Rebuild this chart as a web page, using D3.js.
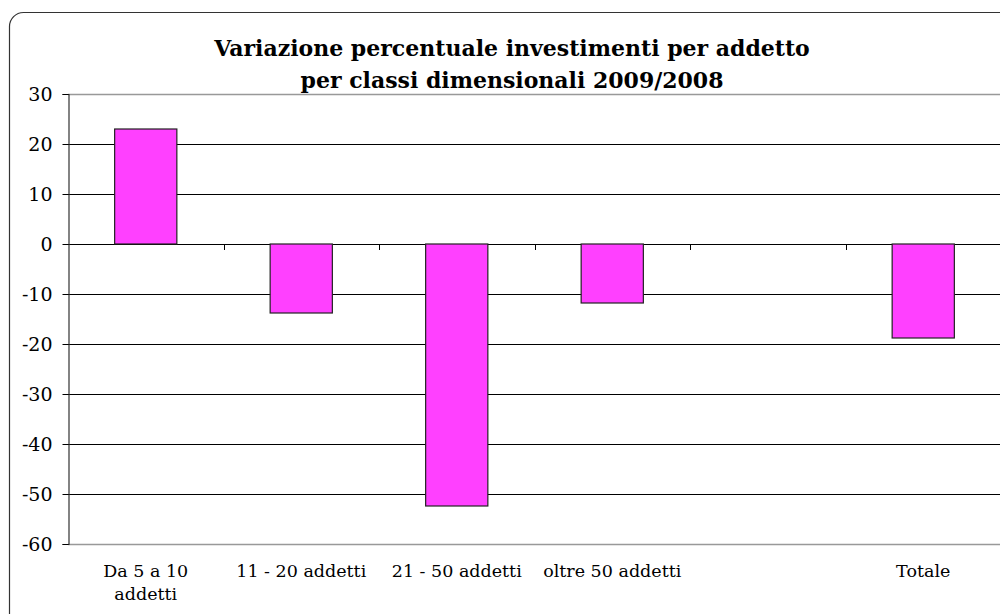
<!DOCTYPE html>
<html>
<head>
<meta charset="utf-8">
<script src="https://cdn.jsdelivr.net/npm/d3@7"></script>
<style>
  body { margin: 0; background: #fff; }
  svg text { font-family: "DejaVu Serif", "Liberation Serif", serif; fill: #000; }
  .chartTitle { font-weight: bold; font-size: 22px; }
  .axis text { font-size: 17.5px; font-family: "DejaVu Serif", serif; }
  .yaxis text { font-size: 19px; font-family: "DejaVu Serif", serif; }
</style>
</head>
<body>
<script>
(function(){

//chart data
var categories = ["Da 5 a 10 addetti", "11 - 20 addetti", "21 - 50 addetti", "oltre 50 addetti", "", "Totale"];
var values = [23.0, -13.8, -52.4, -11.8, null, -18.8];
var yTicks = [30, 20, 10, 0, -10, -20, -30, -40, -50, -60];
var titleLines = ["Variazione percentuale investimenti per addetto", "per classi dimensionali 2009/2008"];

window.onload = setChart();

function setChart(){
    var width = 1000, height = 614;
    var plot = {left: 68, right: 1001, top: 94, bottom: 544};

    var svg = d3.select("body").append("svg")
        .attr("width", width)
        .attr("height", height);

    //outer frame with rounded corners (runs off right/bottom edge)
    svg.append("rect")
        .attr("x", 9.5).attr("y", 12.5)
        .attr("width", 1020).attr("height", 640)
        .attr("rx", 14)
        .attr("fill", "#fff")
        .attr("stroke", "#333")
        .attr("stroke-width", 1.2);

    //title
    svg.append("text")
        .attr("class", "chartTitle")
        .attr("text-anchor", "middle")
        .selectAll("tspan")
        .data(titleLines)
        .enter()
        .append("tspan")
        .attr("x", 512)
        .attr("y", function(d, i){ return 56 + i * 32; })
        .text(function(d){ return d; });

    var x = d3.scaleBand()
        .domain(d3.range(categories.length))
        .range([plot.left, plot.right])
        .padding(0);

    var y = d3.scaleLinear()
        .domain([-60, 30])
        .range([plot.bottom, plot.top]);

    //gridlines
    svg.append("g").selectAll("line")
        .data(yTicks)
        .enter()
        .append("line")
        .attr("x1", plot.left).attr("x2", plot.right)
        .attr("y1", function(d){ return Math.round(y(d)) + 0.5; })
        .attr("y2", function(d){ return Math.round(y(d)) + 0.5; })
        .attr("stroke", function(d){ return (d === 30 || d === -60) ? "#999" : "#000"; })
        .attr("stroke-width", function(d){ return (d === 30 || d === -60) ? 1.5 : 1.2; });

    //bars
    var barW = x.bandwidth() * 0.4;
    svg.append("g").selectAll("rect")
        .data(values.map(function(v, i){ return {i: i, v: v}; }).filter(function(d){ return d.v !== null; }))
        .enter()
        .append("rect")
        .attr("x", function(d){ return x(d.i) + (x.bandwidth() - barW) / 2; })
        .attr("width", barW)
        .attr("y", function(d){ return y(Math.max(0, d.v)); })
        .attr("height", function(d){ return Math.abs(y(d.v) - y(0)); })
        .attr("fill", "#ff40ff")
        .attr("stroke", "#222")
        .attr("stroke-width", 1.2);

    //y axis
    var yAxis = d3.axisLeft(y)
        .tickValues(yTicks)
        .tickSize(6)
        .tickFormat(function(d){ return String(d); });

    var gy = svg.append("g")
        .attr("class", "yaxis")
        .attr("transform", "translate(" + (plot.left + 0.5) + ",0)")
        .call(yAxis);
    gy.attr("font-family", null).attr("font-size", null);
    gy.select(".domain").attr("stroke", "#333").attr("stroke-width", 1.2);
    gy.selectAll(".tick line").attr("stroke", "#000");
    gy.selectAll(".tick text").attr("x", -16).attr("dy", "0.35em");

    //category ticks on the zero line
    svg.append("g").selectAll("line")
        .data(d3.range(1, categories.length))
        .enter()
        .append("line")
        .attr("x1", function(d){ return Math.round(x(d)) + 0.5; })
        .attr("x2", function(d){ return Math.round(x(d)) + 0.5; })
        .attr("y1", y(0)).attr("y2", y(0) + 6)
        .attr("stroke", "#000");

    //category labels (wrapped like the original)
    var labelLines = categories.map(function(c, i){
        return i === 0 ? ["Da 5 a 10", "addetti"] : [c];
    });
    svg.append("g")
        .attr("class", "axis")
        .selectAll("text")
        .data(labelLines)
        .enter()
        .append("text")
        .attr("text-anchor", "middle")
        .each(function(lines, i){
            d3.select(this).selectAll("tspan")
                .data(lines)
                .enter()
                .append("tspan")
                .attr("x", x(i) + x.bandwidth() / 2)
                .attr("y", function(d, j){ return 577 + j * 23; })
                .text(function(d){ return d; });
        });
}

})();
</script>
</body>
</html>
